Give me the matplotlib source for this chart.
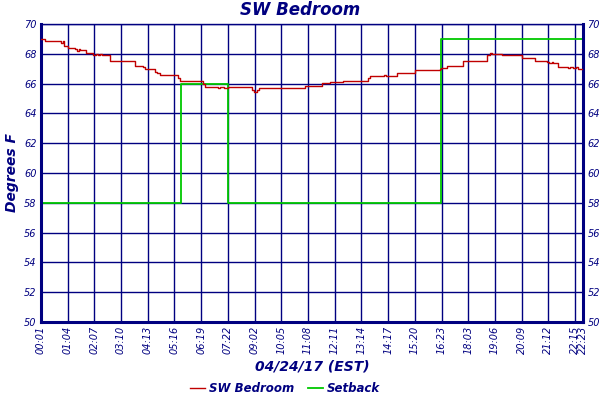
import matplotlib
matplotlib.use("Agg")
import matplotlib.pyplot as plt

# ---- data ----
tick_pos = [0, 63, 126, 189, 252, 315, 378, 441, 504, 567, 630, 693, 756, 819, 882,
            945, 1008, 1071, 1134, 1197, 1260, 1279]
tick_labels = ["00:01", "01:04", "02:07", "03:10", "04:13", "05:16", "06:19", "07:22",
               "09:02", "10:05", "11:08", "12:11", "13:14", "14:17", "15:20", "16:23",
               "18:03", "19:06", "20:09", "21:12", "22:15", "22:23"]

room_x = [0, 9, 47, 52, 54, 64, 80, 85, 90, 92, 106, 123, 130, 135, 139, 144, 163, 186,
          222, 241, 245, 269, 274, 281, 323, 328, 335, 371, 378, 382, 387, 392, 399, 404,
          413, 418, 422, 432, 441, 465, 470, 498, 503, 510, 514, 522, 611, 623, 663, 682,
          713, 717, 720, 772, 776, 809, 814, 824, 840, 883, 942, 944, 958, 965, 996, 1020,
          1053, 1060, 1064, 1083, 1088, 1135, 1166, 1194, 1199, 1206, 1208, 1220, 1244,
          1248, 1256, 1263, 1267, 1279]
room_t = [69.0, 68.85, 68.75, 68.85, 68.5, 68.4, 68.3, 68.2, 68.3, 68.25, 68.05, 67.95,
          68.0, 67.93, 68.0, 67.93, 67.55, 67.5, 67.15, 67.1, 67.0, 66.8, 66.7, 66.6, 66.4,
          66.2, 66.15, 66.2, 66.15, 66.0, 65.8, 65.75, 65.8, 65.75, 65.8, 65.72, 65.78,
          65.72, 65.8, 65.78, 65.8, 65.6, 65.45, 65.6, 65.7, 65.7, 65.7, 65.84, 66.04,
          66.1, 66.2, 66.15, 66.2, 66.4, 66.5, 66.55, 66.5, 66.5, 66.7, 66.9, 66.95, 67.05,
          67.15, 67.15, 67.5, 67.55, 67.95, 68.05, 67.98, 68.0, 67.93, 67.75, 67.5, 67.45,
          67.35, 67.45, 67.35, 67.12, 67.05, 67.1, 67.02, 67.1, 67.0, 67.0]

setback_x = [0, 330, 441, 944, 1279]
setback_t = [58, 66, 58, 69, 69]

NAVY = "#000080"
RED = "#c00000"
GREEN = "#00c800"

fig = plt.figure(figsize=(6, 4), dpi=100)
ax = fig.add_axes([0.068, 0.195, 0.904, 0.745])

ax.plot(room_x, room_t, drawstyle="steps-post", color=RED, lw=1.0, label="SW Bedroom", zorder=3)
ax.plot(setback_x, setback_t, drawstyle="steps-post", color=GREEN, lw=1.3, label="Setback", zorder=2)

ax.set_xlim(0, 1279)
ax.set_ylim(50, 70)
ax.set_yticks(range(50, 71, 2))
ax.set_xticks(tick_pos)
ax.set_xticklabels(tick_labels, rotation=90)
ax.grid(True, color=NAVY, lw=1.0)
ax.set_axisbelow(True)

ax.tick_params(axis="both", length=0, colors=NAVY, labelsize=7, pad=3)
ax.tick_params(axis="y", right=True, labelright=True)
for lab in ax.get_xticklabels() + ax.get_yticklabels():
    lab.set_fontstyle("italic")
for t in ax.yaxis.majorTicks:
    t.label1.set_fontstyle("italic")
    t.label2.set_fontstyle("italic")

for s in ["left", "right", "bottom"]:
    ax.spines[s].set_color(NAVY)
    ax.spines[s].set_linewidth(2.2)
ax.spines["top"].set_color(NAVY)
ax.spines["top"].set_linewidth(1.0)

fig.text(0.5, 0.975, "SW Bedroom", ha="center", va="center", color=NAVY,
         fontsize=12, fontweight="bold", fontstyle="italic")
ax.set_xlabel("04/24/17 (EST)", color=NAVY, fontsize=10, fontweight="bold",
              fontstyle="italic", labelpad=4)
ax.set_ylabel("Degrees F", color=NAVY, fontsize=10, fontweight="bold",
              fontstyle="italic", labelpad=4)

leg = fig.legend(loc="center", bbox_to_anchor=(0.475, 0.028), ncol=2, frameon=False,
                 handlelength=1.3, columnspacing=1.2, handletextpad=0.3,
                 prop={"size": 8.5, "weight": "bold", "style": "italic"})
for t in leg.get_texts():
    t.set_color(NAVY)

fig.savefig("out.png", dpi=100)
